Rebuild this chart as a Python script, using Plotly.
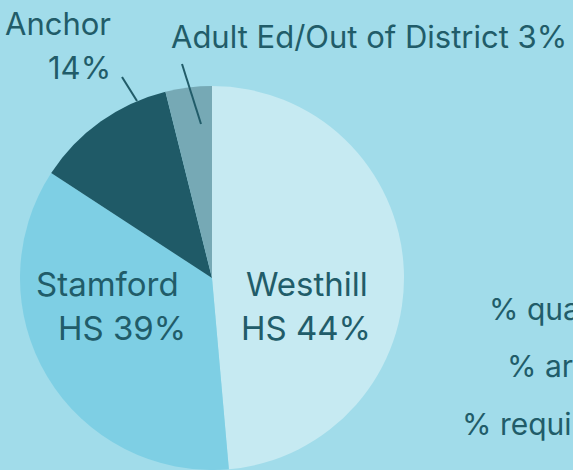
import plotly.graph_objects as go

W, H = 573, 470

categories = ["Westhill HS", "Stamford HS", "Anchor", "Adult Ed/Out of District"]
values = [48.6, 35.6, 11.9, 3.9]
label_pcts = ["44%", "39%", "14%", "3%"]
side_texts = ["% qua", "% are", "% requi"]

slice_colors = ["#c6eaf2", "#7ecfe4", "#1f5a67", "#76a9b5"]
bg = "#a1dcea"
txt = "#215c69"
FONT = "Inter"

fig = go.Figure()
fig.add_trace(go.Pie(
    labels=categories, values=values, sort=False, direction="clockwise",
    rotation=0, textinfo="none", hoverinfo="label+value",
    marker=dict(colors=slice_colors, line=dict(width=0)),
    domain=dict(x=[19 / W, 405 / W], y=[0, 384 / H]),
    showlegend=False,
))

def px(x):
    return x / W

def py(y):
    return 1 - y / H

annos = []
def add(text, x, y, xanchor, size=30):
    annos.append(dict(text=text, x=px(x), y=py(y), xref="paper", yref="paper",
                      xanchor=xanchor, yanchor="middle", showarrow=False,
                      font=dict(family=FONT, size=size, color=txt)))

# Westhill label
add("Westhill", 307, 284, "center", 33)
add("HS " + label_pcts[0], 306, 328, "center", 33)
# Stamford label
add("Stamford", 181, 284, "right", 33)
add("HS " + label_pcts[1], 188, 328, "right", 33)
# Anchor label
add("Anchor", 113, 24, "right", 31)
add(label_pcts[2], 113, 67, "right", 31)
# Adult Ed label
add(categories[3] + " " + label_pcts[3], 169, 36, "left", 31)
# Side texts (cut off by the right edge)
add(side_texts[0], 487, 309, "left", 30)
add(side_texts[1], 505, 366, "left", 30)
add(side_texts[2], 460, 424, "left", 30)

shapes = [
    dict(type="line", xref="paper", yref="paper", x0=px(122), y0=py(77), x1=px(137), y1=py(101),
         line=dict(color=txt, width=2)),
    dict(type="line", xref="paper", yref="paper", x0=px(182), y0=py(64), x1=px(201), y1=py(124),
         line=dict(color=txt, width=2)),
]

fig.update_layout(
    width=W, height=H, margin=dict(l=0, r=0, t=0, b=0),
    paper_bgcolor=bg, plot_bgcolor=bg,
    annotations=annos, shapes=shapes,
)

fig.write_html("out.html", config=dict(displayModeBar=False))
